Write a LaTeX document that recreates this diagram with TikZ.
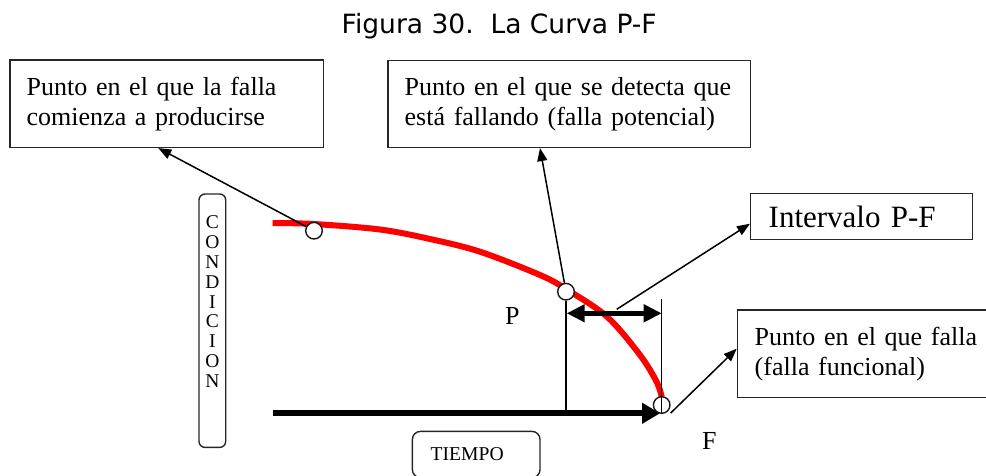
\documentclass[tikz,border=0pt]{standalone}
\usepackage{fontspec}
\setmainfont{Liberation Serif}
\newfontfamily\titlefont{DejaVu Sans}
\usetikzlibrary{arrows.meta}
\begin{document}
\begin{tikzpicture}[x=1pt,y=-1pt,
  box/.style={draw=black!85, line width=1.4pt, anchor=north west, align=left,
    font=\fontsize{26}{30}\selectfont, inner ysep=0pt},
  rbox/.style={draw=black!85, line width=1.4pt, anchor=north west, rounded corners=6pt, inner sep=0pt},
  dot/.style={circle, draw=black!90, line width=1.4pt, fill=white, minimum size=16.6pt, inner sep=0pt},
  arr/.style={line width=1.5pt, -{Triangle[length=13pt,width=10pt]}},
  thinline/.style={line width=1.3pt},
  bigarrow/.style={line width=6pt, -{Triangle[length=18pt,width=20pt]}},
  dblarrow/.style={line width=5pt, {Triangle[length=18pt,width=17pt]}-{Triangle[length=18pt,width=17pt]}},
  curve/.style={draw=red, line width=6pt},
  lbl/.style={font=\fontsize{26}{30}\selectfont, inner sep=0pt, anchor=base west}
]
\useasboundingbox (0,0) rectangle (986,475);

% title
\node[font=\titlefont\fontsize{26.5}{30}\selectfont, anchor=base, inner sep=0pt] (title) at (499.2,33.3) {Figura 30.\ \ La Curva P-F};

% text boxes
\node[box, minimum height=87.4pt, text width=280pt, inner xsep=16.7pt] (b1) at (9.3,59.3)
  {Punto en el que la falla\\comienza a producirse};
\node[box, minimum height=86.7pt, text width=329.3pt, inner xsep=16.7pt] (b2) at (387.3,60)
  {Punto en el que se detecta que\\está fallando (falla potencial)};
\node[box, minimum height=46pt, text width=186pt, inner xsep=18pt, font=\fontsize{31}{34}\selectfont] (b3) at (750,193)
  {Intervalo P-F};
\node[box, minimum height=87.4pt, text width=225.4pt, inner xsep=17.3pt] (b4) at (736.7,309.3)
  {Punto en el que falla\\(falla funcional)};

% axis labels
\node[rbox, minimum width=26.7pt, minimum height=253.4pt] (cond) at (198.3,193.3)
  {\parbox[t][253.4pt][t]{26.7pt}{\centering\fontsize{19.5}{19.8}\selectfont\vspace*{22pt}C\\O\\N\\D\\I\\C\\I\\O\\N}};
\node[rbox, rounded corners=8pt, minimum height=46.3pt, text width=91pt, inner xsep=18.3pt, align=left,
  font=\fontsize{19.6}{22}\selectfont] (tiempo) at (411.7,430.7) {TIEMPO};

% P-F curve
\draw[curve] plot[smooth, tension=0.55] coordinates {(272.7,223) (314,224) (380,229.5) (430,239) (480,251.7) (540,275) (566,289) (607,316.7) (640,355) (656.7,382) (661.7,397)};

% time axis
\coordinate (t0) at (272.7,413.3);
\coordinate (t1) at (660,413.3);
\draw[bigarrow] (t0) -- (t1);

% F vertical line
\coordinate (vFt) at (661.7,299.3);
\coordinate (vFb) at (661.7,413.3);
\draw[thinline] (vFt) -- (vFb);

% points on the curve
\node[dot] (c1) at (314,230.7) {};
\node[dot] (cP) at (566,291.7) {};
\node[dot, fill=none] (cF) at (661.7,405) {};

% P vertical line
\coordinate (vP) at (566,413.3);
\draw[thinline] (cP.south) -- (vP);

% P-F interval double arrow
\coordinate (pfL) at (566.7,313.3);
\coordinate (pfR) at (661.7,313.3);
\draw[dblarrow] (pfL) -- (pfR);

% labels
\node[lbl] (P) at (505,324) {P};
\node[lbl] (F) at (702,449) {F};

% connectors
\draw[arr] (c1) -- ([xshift=149pt]b1.south west);
\draw[arr] (cP) -- ([xshift=152.7pt]b2.south west);
\coordinate (pfm) at (616.7,309.3);
\draw[arr] (pfm) -- ([yshift=-7pt]b3.west);
\coordinate (fm) at (670.7,413);
\draw[arr] (fm) -- ([yshift=5pt]b4.west);
\end{tikzpicture}
\end{document}
